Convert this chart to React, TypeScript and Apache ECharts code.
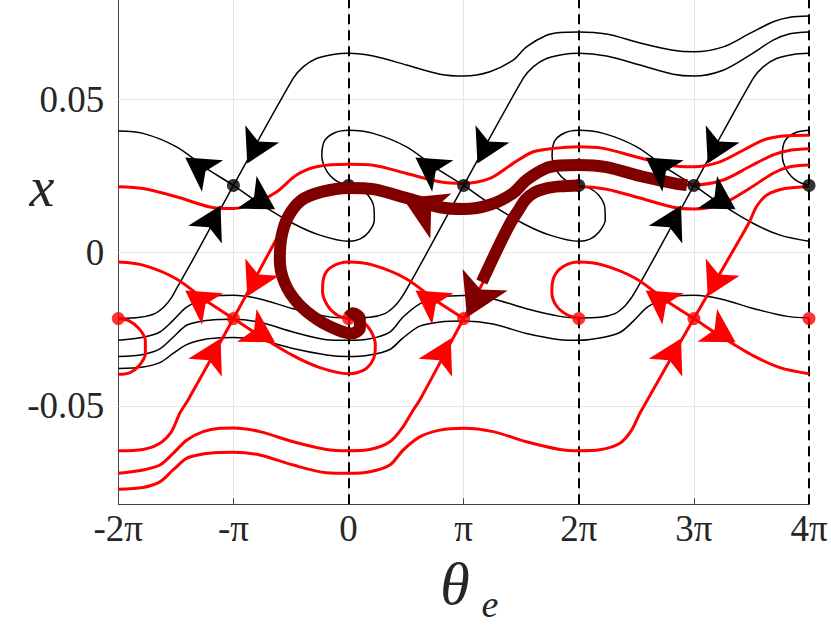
import React, { useEffect, useRef } from 'react';
import * as echarts from 'echarts';

// ---------- axes ----------
const xTicks = [-2, -1, 0, 1, 2, 3, 4]; // in units of π
const xTickLabels = ['-2π', '-π', '0', 'π', '2π', '3π', '4π'];
const yTicks = [-0.05, 0, 0.05];
const yTickLabels = ['-0.05', '0', '0.05'];
const dashedAt = [0, 2, 4];

// ---------- curves: [θe/π, x] ----------
const blackC1 = [[-2.0,-0.0215],[-1.813,-0.0211],[-1.683,-0.0199],[-1.596,-0.0174],[-1.535,-0.0145],[-1.492,-0.0116],[-1.353,-0.0024],[-1.0,0.0219],[-0.481,0.0568],[-0.394,0.0606],[-0.278,0.0633],[-0.134,0.0646],[0,0.0650],[0.214,0.0641],[0.504,0.0612],[0.793,0.0582],[1.0,0.0576],[1.228,0.0590],[1.430,0.0628],[1.546,0.0671],[1.720,0.0709],[1.836,0.0718],[2.0,0.0720],[2.242,0.0713],[2.531,0.0684],[2.820,0.0660],[3.0,0.0655],[3.255,0.0671],[3.486,0.0715],[3.689,0.0753],[3.834,0.0768],[4.0,0.0772]];
const blackC2 = [[-2.0,-0.0286],[-1.785,-0.0276],[-1.639,-0.0259],[-1.524,-0.0221],[-1.407,-0.0178],[-1.263,-0.0151],[-1.118,-0.0140],[-1.0,-0.0139],[-0.771,-0.0151],[-0.481,-0.0183],[-0.191,-0.0208],[0,-0.0213],[0.185,-0.0211],[0.315,-0.0199],[0.402,-0.0174],[0.463,-0.0145],[0.510,-0.0116],[0.647,-0.0024],[1.0,0.0219],[1.517,0.0568],[1.604,0.0606],[1.720,0.0633],[1.864,0.0646],[2.0,0.0650],[2.242,0.0641],[2.531,0.0612],[2.820,0.0582],[3.0,0.0576],[3.255,0.0595],[3.486,0.0644],[3.689,0.0693],[3.834,0.0714],[4.0,0.0720]];
const blackC3 = [[-2.0,-0.0339],[-1.785,-0.0332],[-1.639,-0.0314],[-1.524,-0.0276],[-1.407,-0.0237],[-1.263,-0.0223],[-1.118,-0.0218],[-1.0,-0.0217],[-0.771,-0.0227],[-0.481,-0.0259],[-0.191,-0.0284],[0,-0.0286],[0.185,-0.0281],[0.359,-0.0259],[0.474,-0.0210],[0.619,-0.0167],[0.793,-0.0145],[1.0,-0.0140],[1.256,-0.0151],[1.546,-0.0183],[1.836,-0.0208],[2.0,-0.0213],[2.183,-0.0211],[2.314,-0.0199],[2.401,-0.0174],[2.461,-0.0145],[2.508,-0.0116],[2.646,-0.0024],[3.0,0.0219],[3.515,0.0568],[3.602,0.0606],[3.718,0.0633],[3.863,0.0646],[4.0,0.0650]];
const blackC4 = [[-2.0,-0.0378],[-1.785,-0.0373],[-1.639,-0.0359],[-1.524,-0.0329],[-1.407,-0.0300],[-1.263,-0.0284],[-1.118,-0.0278],[-1.0,-0.0277],[-0.771,-0.0285],[-0.481,-0.0313],[-0.191,-0.0334],[0,-0.0339],[0.185,-0.0334],[0.359,-0.0316],[0.474,-0.0278],[0.619,-0.0240],[0.793,-0.0226],[1.0,-0.0223],[1.256,-0.0233],[1.546,-0.0264],[1.836,-0.0284],[2.0,-0.0286],[2.219,-0.0276],[2.364,-0.0259],[2.480,-0.0221],[2.596,-0.0178],[2.740,-0.0151],[2.885,-0.0140],[3.0,-0.0139],[3.233,-0.0151],[3.522,-0.0183],[3.812,-0.0208],[4.0,-0.0213]];
const blackA1 = [[-2.0,0.0397],[-1.785,0.0389],[-1.494,0.0345],[-1.234,0.0275],[-1.0,0.0219],[-0.771,0.0160],[-0.481,0.0095],[-0.249,0.0057],[0,0.0037],[0.098,0.0044],[0.176,0.0067],[0.224,0.0106],[0.220,0.0148],[0.168,0.0188],[0.081,0.0212],[0,0.0219]];
const blackA2 = [[0,0.0219],[-0.102,0.0233],[-0.189,0.0266],[-0.232,0.0315],[-0.210,0.0364],[-0.119,0.0391],[0,0.0399],[0.214,0.0389],[0.504,0.0345],[0.765,0.0275],[1.0,0.0219],[1.228,0.0160],[1.517,0.0095],[1.749,0.0057],[2.0,0.0037],[2.098,0.0044],[2.176,0.0067],[2.230,0.0106],[2.226,0.0148],[2.172,0.0188],[2.085,0.0212],[2.0,0.0219]];
const blackA3 = [[2.0,0.0219],[1.898,0.0233],[1.811,0.0266],[1.768,0.0315],[1.790,0.0364],[1.881,0.0391],[2.0,0.0399],[2.214,0.0389],[2.504,0.0345],[2.765,0.0275],[3.0,0.0219],[3.228,0.0160],[3.517,0.0095],[3.749,0.0057],[4.0,0.0037]];
const blackA4 = [[4.0,0.0219],[3.898,0.0233],[3.811,0.0266],[3.768,0.0315],[3.790,0.0364],[3.881,0.0391],[4.0,0.0399]];

const redLoop0 = [[-2.0,-0.0397],[-1.902,-0.0392],[-1.822,-0.0370],[-1.765,-0.0330],[-1.765,-0.0287],[-1.820,-0.0248],[-1.910,-0.0222],[-2.0,-0.0215]];
const redA1 = [[-2.0,-0.0031],[-1.785,-0.0041],[-1.494,-0.0086],[-1.234,-0.0158],[-1.0,-0.0215],[-0.771,-0.0271],[-0.481,-0.0336],[-0.249,-0.0375],[0,-0.0395],[0.081,-0.0391],[0.159,-0.0377],[0.220,-0.0344],[0.233,-0.0302],[0.194,-0.0256],[0.116,-0.0225],[0,-0.0215]];
const redA2 = [[0,-0.0215],[-0.093,-0.0205],[-0.180,-0.0174],[-0.226,-0.0126],[-0.212,-0.0077],[-0.145,-0.0046],[0,-0.0031],[0.214,-0.0041],[0.504,-0.0086],[0.765,-0.0158],[1.0,-0.0215]];
const redA3 = [[2.0,-0.0215],[1.890,-0.0201],[1.801,-0.0171],[1.766,-0.0129],[1.784,-0.0080],[1.862,-0.0046],[2.0,-0.0031],[2.212,-0.0041],[2.502,-0.0086],[2.763,-0.0158],[3.0,-0.0215],[3.226,-0.0271],[3.515,-0.0336],[3.747,-0.0375],[4.0,-0.0395]];
const redWa = [[-2.0,0.0215],[-1.785,0.0209],[-1.494,0.0182],[-1.205,0.0149],[-1.0,0.0144],[-0.829,0.0158],[-0.626,0.0198],[-0.452,0.0253],[-0.278,0.0280],[0,0.0288],[0.214,0.0285],[0.504,0.0258],[0.793,0.0231],[1.0,0.0226],[1.228,0.0242],[1.430,0.0291],[1.604,0.0329],[1.778,0.0340],[2.0,0.0345],[2.212,0.0340],[2.502,0.0312],[2.791,0.0285],[3.0,0.0280],[3.226,0.0296],[3.428,0.0334],[3.602,0.0367],[3.776,0.0380],[4.0,0.0383]];
const redWb = [[-2.0,-0.0646],[-1.785,-0.0642],[-1.639,-0.0622],[-1.538,-0.0584],[-1.466,-0.0524],[-1.394,-0.0481],[-1.0,-0.0215],[-0.513,0.0122],[-0.444,0.0161],[-0.357,0.0191],[-0.209,0.0209],[0,0.0215],[0.214,0.0207],[0.504,0.0178],[0.793,0.0148],[1.0,0.0142],[1.228,0.0156],[1.430,0.0194],[1.546,0.0237],[1.720,0.0276],[1.836,0.0284],[2.0,0.0286],[2.242,0.0279],[2.531,0.0250],[2.820,0.0227],[3.0,0.0221],[3.255,0.0237],[3.486,0.0281],[3.689,0.0319],[3.834,0.0334],[4.0,0.0339]];
const redWc = [[-2.0,-0.0720],[-1.785,-0.0709],[-1.639,-0.0693],[-1.524,-0.0655],[-1.407,-0.0612],[-1.263,-0.0584],[-1.118,-0.0573],[-1.0,-0.0572],[-0.771,-0.0584],[-0.481,-0.0617],[-0.191,-0.0642],[0,-0.0646],[0.185,-0.0642],[0.359,-0.0617],[0.474,-0.0568],[0.561,-0.0514],[0.619,-0.0481],[1.0,-0.0215],[1.485,0.0122],[1.554,0.0161],[1.641,0.0191],[1.789,0.0209],[2.0,0.0215],[2.242,0.0207],[2.531,0.0178],[2.820,0.0148],[3.0,0.0142],[3.255,0.0161],[3.486,0.0210],[3.689,0.0259],[3.834,0.0280],[4.0,0.0286]];
const redWd = [[-2.0,-0.0772],[-1.785,-0.0766],[-1.639,-0.0748],[-1.524,-0.0709],[-1.407,-0.0671],[-1.263,-0.0657],[-1.118,-0.0652],[-1.0,-0.0651],[-0.771,-0.0660],[-0.481,-0.0693],[-0.191,-0.0718],[0,-0.0720],[0.185,-0.0715],[0.359,-0.0693],[0.474,-0.0644],[0.619,-0.0601],[0.793,-0.0579],[1.0,-0.0573],[1.256,-0.0584],[1.546,-0.0617],[1.836,-0.0642],[2.0,-0.0646],[2.183,-0.0643],[2.357,-0.0622],[2.459,-0.0579],[2.531,-0.0524],[3.0,-0.0215],[3.428,0.0063],[3.486,0.0103],[3.547,0.0152],[3.634,0.0188],[3.791,0.0209],[4.0,0.0215]];

const traj1 = [[2.94,0.0220],[2.820,0.0227],[2.531,0.0250],[2.242,0.0279],[2.0,0.0286],[1.836,0.0284],[1.720,0.0276],[1.546,0.0237],[1.430,0.0194],[1.228,0.0156],[1.0,0.0142],[0.793,0.0148],[0.504,0.0178],[0.214,0.0207],[0,0.0211],[-0.235,0.0198],[-0.408,0.0171],[-0.525,0.0117],[-0.582,0.0052],[-0.597,-0.0024],[-0.553,-0.0100],[-0.438,-0.0166],[-0.264,-0.0220],[-0.090,-0.0253],[0.026,-0.0264],[0.098,-0.0247],[0.098,-0.0215],[0.040,-0.0198],[0,-0.0210]];
const traj2 = [[2.0,0.0219],[1.836,0.0216],[1.720,0.0210],[1.619,0.0197],[1.540,0.0174],[1.471,0.0135],[1.401,0.0093],[1.288,0.0008],[1.158,-0.0096]];

// equilibria
const blackEq = [[-1,0.0219],[0,0.0219],[1,0.0219],[2,0.0219],[3,0.0219],[4,0.0219]];
const redEq = [[-2,-0.0215],[-1,-0.0215],[0,-0.0215],[1,-0.0215],[2,-0.0215],[3,-0.0215],[4,-0.0215]];

// arrowheads: [θe/π, x, heading in degrees]
const blackArrows = [[-1.300,0.0280,56],[-0.761,0.0169,-121],[-0.815,0.0339,153],[-1.179,0.0106,-28],[0.700,0.0280,56],[1.185,0.0339,153],[2.700,0.0280,56],[3.239,0.0169,-121],[3.185,0.0339,153],[2.821,0.0106,-28]];
const redArrows = [[-1.300,-0.0154,56],[-0.761,-0.0265,-121],[-0.815,-0.0095,153],[-1.179,-0.0328,-28],[0.700,-0.0154,56],[0.821,-0.0328,-28],[2.700,-0.0154,56],[3.239,-0.0265,-121],[3.185,-0.0095,153],[2.821,-0.0328,-28]];
const trajArrows = [[0.637,0.0148,65],[1.108,-0.0150,154.5]];

const FONT = "'Times New Roman', 'Liberation Serif', 'DejaVu Serif', serif";
const ARROW = 'path://M0,0 L18,31 L0,23 L-18,31 Z';
const BLACK = '#000000';
const RED = '#ff0000';
const DARK = '#800000';

function lineSeries(data: number[][], color: string, width: number, z: number) {
  return {
    type: 'line', data, symbol: 'none', showSymbol: false, smooth: 0.3, z, silent: true,
    lineStyle: { color, width }, clip: true,
  };
}
function arrowSeries(data: number[][], color: string, size: number[], z: number) {
  return {
    type: 'scatter', z, silent: true, clip: false,
    symbol: ARROW, symbolSize: size,
    itemStyle: { color, opacity: 1 },
    data: data.map((d) => ({ value: [d[0], d[1]], symbolRotate: d[2] })),
  };
}

export default function App() {
  const ref = useRef<HTMLDivElement>(null);
  useEffect(() => {
    document.body.style.margin = '0';
    const chart = echarts.init(ref.current as HTMLDivElement, null, { renderer: 'svg' });
    const option: any = {
      animation: false,
      backgroundColor: '#ffffff',
      textStyle: { fontFamily: FONT },
      grid: { left: 118.3, right: 22, top: 0, bottom: 121.7 },
      xAxis: {
        type: 'value', min: -2, max: 4, interval: 1,
        axisLine: { show: true, onZero: false, lineStyle: { color: '#404040', width: 1 } },
        axisTick: { show: true, inside: true, length: 6, lineStyle: { color: '#404040' } },
        axisLabel: {
          margin: 6, fontFamily: FONT, fontSize: 37, color: '#262626',
          formatter: (v: number) => { const i = xTicks.indexOf(Math.round(v)); return i >= 0 ? xTickLabels[i] : ''; },
        },
        splitLine: { show: true, lineStyle: { color: '#e6e6e6', width: 1 } },
      },
      yAxis: {
        type: 'value', min: -0.0821, max: 0.0824,
        axisLine: { show: true, onZero: false, lineStyle: { color: '#404040', width: 1 } },
        axisTick: { show: true, inside: true, length: 6, customValues: yTicks, lineStyle: { color: '#404040' } },
        axisLabel: {
          customValues: yTicks, margin: 14, fontFamily: FONT, fontSize: 37, color: '#262626',
          formatter: (v: number) => { const i = yTicks.findIndex((t) => Math.abs(t - v) < 1e-9); return i >= 0 ? yTickLabels[i] : ''; },
        },
        splitLine: { show: false },
      },
      graphic: [
        { type: 'text', x: 42, y: 187, z: 10, style: { text: 'x', fontFamily: FONT, fontStyle: 'italic', fontSize: 56, lineHeight: 40, fill: '#262626', align: 'center', verticalAlign: 'middle' } },
        { type: 'text', x: 455, y: 584, z: 10, style: { text: 'θ', fontFamily: FONT, fontStyle: 'italic', fontSize: 60, lineHeight: 44, fill: '#262626', align: 'center', verticalAlign: 'middle' } },
        { type: 'text', x: 490, y: 604, z: 10, style: { text: 'e', fontFamily: FONT, fontStyle: 'italic', fontSize: 38, lineHeight: 26, fill: '#262626', align: 'center', verticalAlign: 'middle' } },
      ],
      series: [
        {
          type: 'line', data: [], z: 1, silent: true,
          markLine: {
            silent: true, symbol: ['none', 'none'], label: { show: false }, z: 1,
            lineStyle: { color: '#e6e6e6', width: 1, type: 'solid' },
            data: yTicks.map((v) => ({ yAxis: v })),
          },
        },
        {
          type: 'line', data: [], z: 2, silent: true,
          markLine: {
            silent: true, symbol: ['none', 'none'], label: { show: false }, z: 2,
            lineStyle: { color: '#000000', width: 2, type: [10, 6] },
            data: dashedAt.map((v) => ({ xAxis: v })),
          },
        },
        ...[blackC1, blackC2, blackC3, blackC4, blackA1, blackA2, blackA3, blackA4].map((d) => lineSeries(d, BLACK, 1.5, 3)),
        ...[redLoop0, redA1, redA2, redA3, redWa, redWb, redWc, redWd].map((d) => lineSeries(d, RED, 3, 4)),
        { type: 'scatter', data: blackEq, symbol: 'circle', symbolSize: 13, itemStyle: { color: BLACK }, z: 5, clip: false, silent: true },
        { type: 'scatter', data: redEq, symbol: 'circle', symbolSize: 13, itemStyle: { color: RED }, z: 5, clip: false, silent: true },
        lineSeries(traj1, DARK, 12, 6),
        lineSeries(traj2, DARK, 12, 6),
        arrowSeries(blackArrows, BLACK, [38, 33], 7),
        arrowSeries(redArrows, RED, [38, 33], 7),
        arrowSeries(trajArrows, DARK, [50, 42], 8),
      ],
    };
    chart.setOption(option);
    return () => chart.dispose();
  }, []);
  return <div ref={ref} style={{ width: 831, height: 626, background: '#fff' }} />;
}
